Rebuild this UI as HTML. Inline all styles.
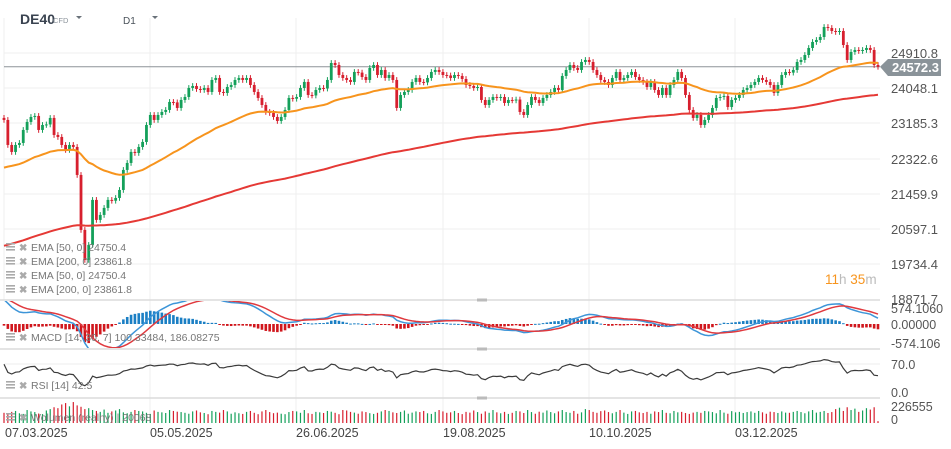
<!DOCTYPE html>
<html><head><meta charset="utf-8">
<style>
html,body{margin:0;padding:0;background:#fff;width:951px;height:449px;overflow:hidden}
svg{display:block;font-family:"Liberation Sans",sans-serif}
</style></head>
<body>
<svg id="chart" width="951" height="449" viewBox="0 0 951 449">
  <g id="grid"></g>
  <g id="header">
    <text x="20" y="24" font-size="14" font-weight="bold" fill="#3a4350">DE40</text>
    <text x="53" y="23" font-size="7.5" fill="#8a929a">CFD</text>
    <path d="M76 16 L82 16 L79 19 Z" fill="#6a727a"/>
    <text x="123" y="24" font-size="10" fill="#4a525a">D1</text>
    <path d="M152 16 L158 16 L155 19 Z" fill="#6a727a"/>
  </g>
  <g id="main"></g>
  <g id="axis"></g>
  <g id="macd"></g>
  <g id="rsi"></g>
  <g id="vol"></g>
  <g id="dates"></g>
  <g id="legend"></g>
</svg>
<script>
const closes=[23270,22657,22486,22657,22706,23025,23221,23343,23368,23025,
23147,23160,23319,22902,22853,22657,22535,22657,22608,21922,
20575,19840,20207,21310,20820,20942,21114,21310,21290,21358,
21554,22045,22216,22486,22461,22608,22731,23147,23392,23270,
23392,23466,23515,23711,23700,23564,23760,23833,24054,24103,
24029,24005,24054,23956,24250,24299,23956,23931,24078,24127,
24250,24299,24250,24299,24127,23956,23809,23637,23466,23441,
23343,23245,23343,23515,23809,23790,23833,24054,24201,23882,
23870,24005,24054,24040,24250,24666,24617,24372,24299,24250,
24201,24446,24430,24323,24250,24544,24617,24372,24495,24299,
24372,24250,23564,23882,23956,24005,24201,24299,24201,24190,
24299,24446,24495,24446,24372,24360,24299,24372,24348,24274,
24127,24103,24054,24078,
23760,23637,23760,23833,23809,23833,23686,23760,23750,23770,
23466,23392,23637,23833,23760,23686,23809,23882,23956,24054,
24005,24348,24495,24617,24544,24495,24691,24740,24691,24495,
24372,24250,24201,24127,24299,24446,24250,24299,24372,24446,
24323,24250,24201,24078,24201,24005,23882,24054,23882,24127,
24250,24446,24299,23882,23515,23319,23392,23147,23270,23392,
23564,23809,23833,23858,23588,23760,23809,23882,24005,24054,
24127,24201,24299,24250,24201,24127,23931,24127,24372,24446,
24430,24495,24691,24740,24862,25034,25181,25230,25303,25548,
25524,25450,25426,25450,25107,24740,24936,24985,24960,24985,
25034,24985,24617,24572];
const volumes=[110,95,120,130,105,98,140,125,118,102,96,135,
150,170,160,200,215,180,226,190,175,150,160,140,
130,120,145,110,125,135,150,115,105,120,140,130,
125,110,98,135,120,115,108,140,130,122,118,110,
100,125,135,115,108,95,130,120,112,140,125,100,
115,105,98,120,130,110,95,125,140,118,106,112,
100,95,118,130,125,110,140,105,98,120,115,108,
130,122,110,95,140,135,120,112,100,125,118,106,
98,110,125,140,130,115,108,120,135,100,112,125,
118,130,105,98,120,140,125,110,115,130,108,96,
120,112,135,118,100,125,110,140,115,105,120,98,
110,130,125,108,140,118,100,122,112,135,118,105,
125,140,118,110,130,100,115,150,140,120,110,128,
135,118,105,120,140,112,98,125,130,115,108,120,
100,125,118,140,110,105,130,115,120,108,98,112,
120,110,130,125,118,105,140,112,100,128,115,120,
108,118,125,110,130,115,100,122,118,108,125,112,
110,120,130,118,105,125,140,112,120,130,108,118,
150,165,130,170,140,155,120,135,160,145,170,20];
const priceTicks=["24910.8","24048.1","23185.3","22322.6","21459.9","20597.1","19734.4","18871.7"];
const dateLabels=["07.03.2025","05.05.2025","26.06.2025","19.08.2025","10.10.2025","03.12.2025"];
const lastPrice=24572.3;
const ema50Seed=22050, ema200Seed=20150;
const macdSeeds=[23270,22770,500];
const volMax=226.555;

const NS="http://www.w3.org/2000/svg";
function mk(parent,tag,attrs){const e=document.createElementNS(NS,tag);for(const k in attrs)e.setAttribute(k,attrs[k]);parent.appendChild(e);return e;}
const N=closes.length;
const xOf=i=>4+i*(874/(N-1));
const yP=p=>53+(24910.8-p)/862.7*35.2;
const MACDZ=324, MACDS=30/574;
const yM=v=>MACDZ-v*MACDS;
const yR=r=>393-r*29/70;
const yV=v=>423-v/volMax*21;
const GREEN="#14a05a", RED="#d71f2e";

const grid=document.getElementById('grid');
[53,88,123,159,194,229,264].forEach(y=>{const l=mk(grid,'line',{x1:4,x2:880,y1:y,y2:y,stroke:'#efefef','stroke-width':1});

});
[150,296,443,589,735].forEach(x=>{const l=mk(grid,'line',{x1:x,x2:x,y1:18,y2:423,stroke:'#efefef','stroke-width':1});

});
mk(grid,'line',{x1:4,x2:4,y1:18,y2:300,stroke:'#efefef'});
mk(grid,'line',{x1:4,x2:880,y1:364,y2:364,stroke:'#eeeeee'});
[300,349,398].forEach(y=>{const l=mk(grid,'line',{x1:0,x2:880,y1:y,y2:y,stroke:'#dcdcdc','stroke-width':1.5});


const h=mk(grid,'rect',{x:477,y:y-1.5,width:10,height:3,fill:'#bbb'});

});

const main=document.getElementById('main');
mk(main,'line',{x1:4,x2:880,y1:yP(lastPrice),y2:yP(lastPrice),stroke:'#8d9398','stroke-width':1});
for(let i=0;i<N;i++){
  const c=closes[i], o=i?closes[i-1]:c+50;
  const col=c>=o?GREEN:RED;
  const x=xOf(i);
  const hi=Math.max(o,c)+70, lo=Math.min(o,c)-70;
  const w=mk(main,'line',{x1:x,x2:x,y1:yP(hi),y2:yP(lo),stroke:col,'stroke-width':1});
  
  
  const y1=yP(Math.max(o,c)), y2=yP(Math.min(o,c));
  const b=mk(main,'rect',{x:x-1.4,y:y1,width:2.8,height:Math.max(1,y2-y1),fill:col});
  
  
}
function ema(arr,n,seed){const a=2/(n+1);let e=seed;return arr.map(v=>(e=e+a*(v-e)));}
const e50=ema(closes,45,ema50Seed), e200=ema(closes,180,ema200Seed);
const pathOf=(arr,fy)=>arr.map((v,i)=>(i?'L':'M')+xOf(i).toFixed(1)+' '+fy(v).toFixed(1)).join(' ');
const l200=mk(main,'path',{d:pathOf(e200,yP),fill:'none',stroke:'#e53935','stroke-width':2});


const l50=mk(main,'path',{d:pathOf(e50,yP),fill:'none',stroke:'#f7941d','stroke-width':2});



const axis=document.getElementById('axis');
const tickY=[53,88,123,159,194,229,264,299];
priceTicks.forEach((t,i)=>{const e=mk(axis,'text',{x:891,y:tickY[i]+5,'font-size':13,fill:'#555'});e.textContent=t;

});
const pl=mk(axis,'path',{d:`M880 ${yP(lastPrice)} L888 59 L941 59 L941 76 L888 76 Z`,fill:'#8a9399'});


const pt=mk(axis,'text',{x:892,y:72,'font-size':13,'font-weight':'bold',fill:'#fff'});pt.textContent=lastPrice.toFixed(1);


const cd=mk(axis,'text',{x:825,y:284,'font-size':13.5,fill:'#f7941d'});
cd.innerHTML='11<tspan fill="#bbb">h</tspan> 35<tspan fill="#bbb">m</tspan>';



const macdG=document.getElementById('macd');
const m14=ema(closes,14,macdSeeds[0]), m30=ema(closes,30,macdSeeds[1]);
const macdV=m14.map((v,i)=>v-m30[i]);
const sig=ema(macdV,7,macdSeeds[2]);
macdV.forEach((v,i)=>{const h=v-sig[i];const y=yM(h*1.3);
const r=mk(macdG,'rect',{x:xOf(i)-1.3,y:Math.max(301,Math.min(y,MACDZ)),width:2.6,height:Math.max(1,Math.min(Math.abs(y-MACDZ),23)),fill:h>=0?'#1b7fc4':'#d0161c'});

});
const clip=mk(macdG,'clipPath',{id:'mclip'});mk(clip,'rect',{x:0,y:301,width:880,height:47});
const mg=mk(macdG,'g',{'clip-path':'url(#mclip)'});
const ml=mk(mg,'path',{d:pathOf(macdV,yM),fill:'none',stroke:'#3d95d8','stroke-width':1.5});


const sl=mk(mg,'path',{d:pathOf(sig,yM),fill:'none',stroke:'#e0393e','stroke-width':1.5});


[["574.1060",313],["0.00000",329],["-574.106",348]].forEach(([t,y])=>{const e=mk(macdG,'text',{x:891,y:y,'font-size':12.5,fill:'#555'});e.textContent=t;

});

const rsiG=document.getElementById('rsi');
let ag=90,al=40;const rsiV=closes.map((c,i)=>{const d=i?c-closes[i-1]:0;ag=(ag*13+Math.max(d,0))/14;al=(al*13+Math.max(-d,0))/14;return 100-100/(1+ag/al);});
const rl=mk(rsiG,'path',{d:pathOf(rsiV,yR),fill:'none',stroke:'#3a3a3a','stroke-width':1.2});


[["70.0",369],["0.0",397]].forEach(([t,y])=>{const e=mk(rsiG,'text',{x:891,y:y,'font-size':12.5,fill:'#555'});e.textContent=t;

});

const volG=document.getElementById('vol');
volumes.forEach((v,i)=>{const up=i?closes[i]>=closes[i-1]:false;
const r=mk(volG,'rect',{x:xOf(i)-0.6,y:yV(v),width:1.2,height:423-yV(v),fill:up?GREEN:RED});

});
[["226555",411],["0",424]].forEach(([t,y])=>{const e=mk(volG,'text',{x:891,y:y,'font-size':12.5,fill:'#555'});e.textContent=t;

});

const dg=document.getElementById('dates');
dateLabels.forEach((t,i)=>{const e=mk(dg,'text',{x:[5,150,296,443,589,735][i],y:437,'font-size':12.5,fill:'#444'});e.textContent=t;

});

const lg=document.getElementById('legend');
function legendRow(y,text){
  const ic=mk(lg,'g',{});
  
  
  [0,3,6].forEach(d=>mk(ic,'rect',{x:6,y:y-8+d,width:9,height:1.6,fill:'#aaa'}));
  const x=mk(lg,'text',{x:19,y:y,'font-size':10,fill:'#aaa','font-weight':'bold'});x.textContent='✖';
  
  
  const t=mk(lg,'text',{x:31,y:y,'font-size':10.5,fill:'#777'});t.textContent=text;
  
  
}
legendRow(251,'EMA [50,  0]  24750.4');
legendRow(265,'EMA [200,  0]  23861.8');
legendRow(279,'EMA [50,  0]  24750.4');
legendRow(293,'EMA [200,  0]  23861.8');
legendRow(341,'MACD [14, 30, 7]  100.33484,   186.08275');
legendRow(389,'RSI [14]  42.5');
legendRow(421,'Wolumen (realny) | 20068');
</script>
</body></html>
